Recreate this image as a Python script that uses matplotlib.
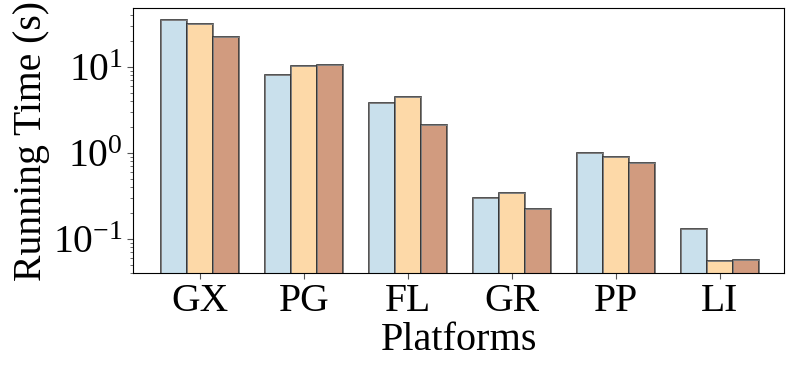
import numpy as np
import matplotlib
matplotlib.use('Agg')
import matplotlib.pyplot as plt

plt.rcParams['font.family'] = ['Liberation Serif', 'DejaVu Serif']
plt.rcParams['mathtext.fontset'] = 'stix'

platforms = ['GX', 'PG', 'FL', 'GR', 'PP', 'LI']
run_a = [35.2, 8.1, 3.8, 0.30, 1.0, 0.13]
run_b = [31.0, 10.2, 4.45, 0.34, 0.905, 0.055]
run_c = [21.9, 10.4, 2.12, 0.225, 0.76, 0.0565]

colors = ['#c9e0ec', '#fdd9a8', '#d19b7f']

x = np.arange(len(platforms))
w = 0.25

fig = plt.figure(figsize=(7.93, 3.69), dpi=100)
ax = fig.add_axes([0.168, 0.26, 0.821, 0.718])

for i, vals in enumerate([run_a, run_b, run_c]):
    ax.bar(x + (i - 1) * w, vals, w, color=colors[i],
           edgecolor='#333333', linewidth=1.2)
    # lighter outer edge like the reference
    ax.bar(x + (i - 1) * w, vals, w, color='none',
           edgecolor='#888888', linewidth=0.6)

ax.set_yscale('log')
ax.set_ylim(0.04, 48)
ax.set_xlim(-0.645, 5.62)
ax.set_xticks(x)
ax.set_xticklabels(platforms, fontsize=28.5)
ax.tick_params(axis='y', labelsize=28.5)
ax.tick_params(axis='both', which='major', length=4, color='#555555')
ax.tick_params(axis='y', which='minor', length=2.5, color='#555555')
ax.set_xlabel('Platforms', fontsize=29, labelpad=1)
ax.set_ylabel('Running Time (s)', fontsize=28.5, labelpad=2)

fig.savefig('out.png', dpi=100)
